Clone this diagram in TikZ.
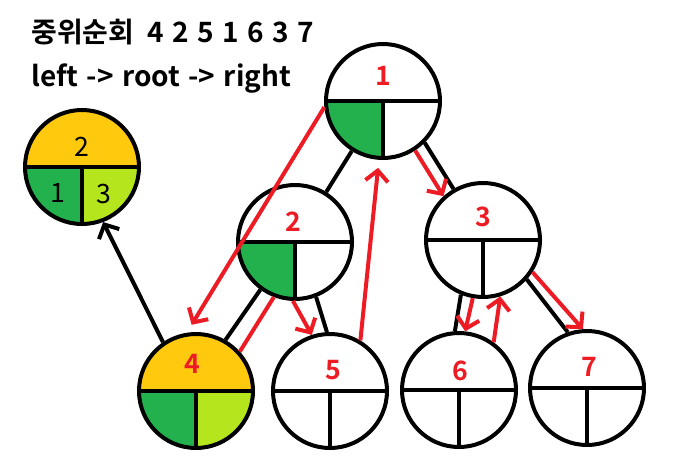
\documentclass[tikz,border=0pt]{standalone}
\usepackage{fontspec}
\newfontfamily\krfont{Noto Sans CJK KR}[BoldFont={Noto Sans CJK KR Bold}]
\newfontfamily\krwide{Noto Sans CJK KR}[BoldFont={Noto Sans CJK KR Bold}, WordSpace=1.33]
\usetikzlibrary{arrows.meta}

\definecolor{paintred}{HTML}{ED1C24}
\definecolor{paintgold}{HTML}{FFC90E}
\definecolor{paintgreen}{HTML}{22B14C}
\definecolor{paintlime}{HTML}{B5E61D}

\tikzset{
  treecircle/.style={draw, circle, line width=3pt, minimum size=85.5pt, inner sep=0pt},
  divider/.style={line width=3pt},
  edge/.style={line width=3pt},
  visit/.style={draw=paintred, line width=3pt, -{Straight Barb[length=8pt,width=17pt]}},
  visitline/.style={draw=paintred, line width=3pt},
  pointer/.style={line width=3pt, -{Straight Barb[length=8pt,width=17pt]}},
  numlabel/.style={text=paintred, font=\krfont\bfseries\fontsize{20}{20}\selectfont},
  keylabel/.style={font=\krfont\fontsize{20}{20}\selectfont},
  heading/.style={anchor=west, inner sep=0pt, font=\krwide\bfseries\fontsize{21}{21}\selectfont}
}

% name, centre, top colour, left colour, right colour
\newcommand{\splitnode}[5]{%
  \begin{scope}[shift={#2}]
    \clip (0,0) circle (42.75pt);
    \fill[#3] (-60,0) rectangle (60,-60);
    \fill[#4] (-60,0) rectangle (0,60);
    \fill[#5] (0,0) rectangle (60,60);
  \end{scope}
  \begin{scope}[shift={#2}]
    \draw[divider] (-57,0) -- (57,0);
    \draw[divider] (0,0) -- (0,57);
  \end{scope}
  \node[treecircle] (#1) at #2 {};
}

\begin{document}
\begin{tikzpicture}[x=0.75pt, y=-0.75pt]
    \useasboundingbox (0,0) rectangle (679,475);

    \node[heading] (Title) at (31,32) {중위순회\hspace{10pt}4 2 5 1 6 3 7};
    \node[heading] (Rule) at (31,79) {left -> root -> right};

    % tree
    \splitnode{Node1}{(383,101)}{white}{paintgreen}{white}
    \splitnode{Node2}{(295,242)}{white}{paintgreen}{white}
    \splitnode{Node3}{(483,240)}{white}{white}{white}
    \splitnode{Node4}{(196,391)}{paintgold}{paintgreen}{paintlime}
    \splitnode{Node5}{(330,391)}{white}{white}{white}
    \splitnode{Node6}{(459,390)}{white}{white}{white}
    \splitnode{Node7}{(587,388)}{white}{white}{white}
    \splitnode{Key}{(82,167)}{paintgold}{paintgreen}{paintlime}

    \node[numlabel] (Label1) at (383,76) {1};
    \node[numlabel] (Label2) at (293,222) {2};
    \node[numlabel] (Label3) at (483,217) {3};
    \node[numlabel] (Label4) at (192,364) {4};
    \node[numlabel] (Label5) at (333,370) {5};
    \node[numlabel] (Label6) at (460,371) {6};
    \node[numlabel] (Label7) at (589,367) {7};

    \node[keylabel] (KeyTop) at (82,147) {2};
    \node[keylabel] (KeyLeft) at (58,193) {1};
    \node[keylabel] (KeyRight) at (104,194) {3};

    \draw[edge] (Node1) -- (Node2);
    \draw[edge] (Node1.315) -- (Node3.120);
    \draw[edge] (Node2.234) -- (Node4.60);
    \draw[edge] (Node2.291) -- (Node5.93);
    \draw[edge] (Node3.248) -- (Node6.94);
    \draw[edge] (Node3.318) -- (Node7.109);

    \draw[pointer] (Node4.124) -- (Key.291);

    % traversal
    \draw[visit, shorten >=7pt] (Node1.186) -- (Node4.99);
    \draw[visitline] (Node4.42) -- (Node2.249);
    \draw[visit] (Node2.268) -- (Node5.108);
    \draw[visit, shorten >=6pt] (Node5.59) -- (Node1.266);
    \draw[visit] (Node1.303) -- (Node3.132);
    \draw[visit] (Node3.260) -- (Node6.84);
    \draw[visit] (Node6.54) -- (Node3.287);
    \draw[visit] (Node3.327) -- (Node7.94);
\end{tikzpicture}
\end{document}
